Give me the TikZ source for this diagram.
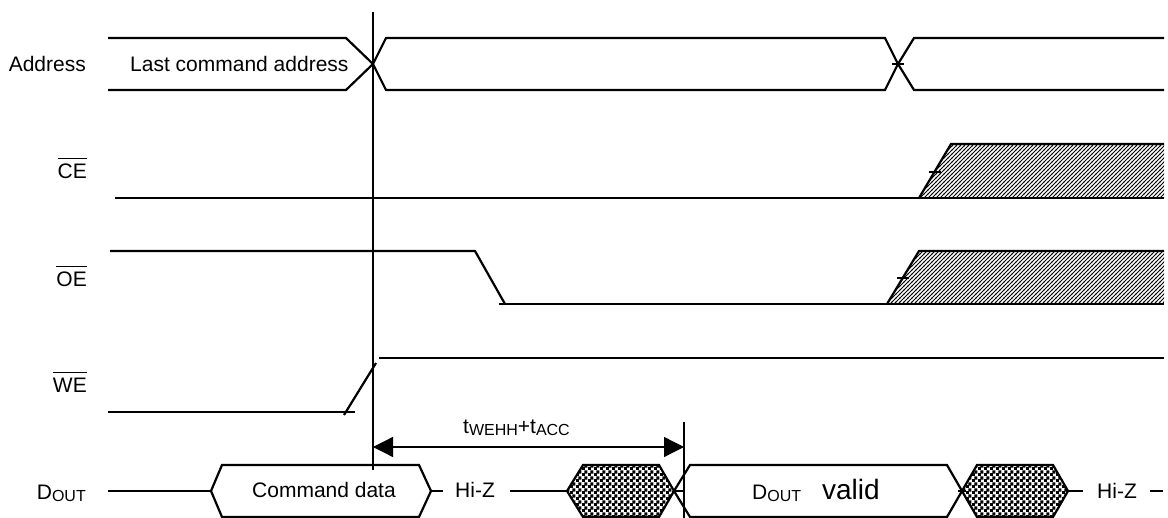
\documentclass[tikz,border=0pt]{standalone}
\usepackage{fontspec}
\setmainfont{Liberation Sans}
\usetikzlibrary{patterns,arrows.meta}

% fill patterns for the "don't care" and "invalid" regions
\pgfdeclarepatternformonly{slant}{\pgfqpoint{-1pt}{-1pt}}{\pgfqpoint{5pt}{5pt}}{\pgfqpoint{4pt}{4pt}}{%
  \pgfsetlinewidth{0.9pt}
  \pgfpathmoveto{\pgfqpoint{-0.2pt}{-0.2pt}}
  \pgfpathlineto{\pgfqpoint{4.2pt}{4.2pt}}
  \pgfusepath{stroke}}
\pgfdeclarepatternformonly{checks}{\pgfpointorigin}{\pgfqpoint{6pt}{6pt}}{\pgfqpoint{6pt}{6pt}}{%
  \pgfpathrectangle{\pgfqpoint{-0.3pt}{-0.3pt}}{\pgfqpoint{3.6pt}{3.6pt}}
  \pgfpathrectangle{\pgfqpoint{2.7pt}{2.7pt}}{\pgfqpoint{3.6pt}{3.6pt}}
  \pgfusepath{fill}}

\newcommand{\ovl}[1]{\vbox{\hrule height 1.2pt\kern 5.5pt\hbox{#1}}}
\newcommand{\dsub}[1]{\raisebox{-1.5pt}{\fontsize{16}{16}\selectfont #1}}

\begin{document}
\begin{tikzpicture}[x=1pt,y=-1pt,
    sig/.style={line width=2.2pt,line join=miter},
    tick/.style={line width=1.3pt},
    lbl/.style={font=\fontsize{21}{25}\selectfont,inner sep=0pt},
    span/.style={<->,line width=1.3pt,>={Triangle[length=20pt,width=20pt]}}]
  \useasboundingbox (0,0) rectangle (1168,518);

  % signal names
  \node[lbl,anchor=base east] (nAddr) at (86,72) {Address};
  \node[lbl,anchor=base east] (nCE) at (87,179) {\ovl{CE}};
  \node[lbl,anchor=base east] (nOE) at (87,287) {\ovl{OE}};
  \node[lbl,anchor=base east] (nWE) at (87,393) {\ovl{WE}};
  \node[lbl,anchor=base east] (nDout) at (86,500) {D\dsub{OUT}};

  % address bus
  \draw[sig] (108,38) -- (346,38) -- (373,64) -- (386,90) -- (885,90) -- (898,64) -- (914,38) -- (1164,38);
  \draw[sig] (108,90) -- (346,90) -- (373,64) -- (386,38) -- (885,38) -- (898,64) -- (914,90) -- (1164,90);
  \draw[tick] (892,64) -- (904,64);
  \node[lbl,anchor=base west] (lastAddr) at (130,72) {Last command address};

  % chip enable
  \fill[pattern=slant] (919,198) -- (951,144) -- (1164,144) -- (1164,198) -- cycle;
  \draw[sig] (115,198) -- (1164,198);
  \draw[sig] (919,198) -- (951,144) -- (1164,144);
  \draw[tick] (929,172) -- (941,172);

  % output enable
  \fill[pattern=slant] (887,304) -- (919,251) -- (1164,251) -- (1164,304) -- cycle;
  \draw[sig] (110,251) -- (475,251) -- (505,304);
  \draw[sig] (499,304) -- (1164,304);
  \draw[sig] (887,304) -- (919,251) -- (1164,251);
  \draw[tick] (897,278) -- (909,278);

  % write enable
  \draw[sig] (108,412) -- (355,412);
  \draw[sig] (344,415) -- (376,363);
  \draw[sig] (379,358) -- (1164,358);

  % data out
  \draw[sig] (108,491) -- (211,491);
  \draw[sig] (211,491) -- (222,465) -- (419,465) -- (431,491) -- (419,517) -- (222,517) -- cycle;
  \node[lbl,anchor=base west] (cmdData) at (252,498) {Command data};
  \draw[sig] (431,491) -- (443,491);
  \node[lbl,anchor=base west] (hiz1) at (455,498) {Hi-Z};
  \draw[sig] (510,491) -- (567,491);
  \filldraw[sig,pattern=checks] (567,491) -- (583,465) -- (659,465) -- (674,491) -- (659,517) -- (583,517) -- cycle;
  \draw[sig] (674,491) -- (690,465) -- (947,465) -- (962,491) -- (947,517) -- (690,517) -- cycle;
  \draw[tick] (674,491) -- (684,491);
  \node[lbl,anchor=base west] (doutValid) at (752,500) {D\dsub{OUT}\hspace{21pt}{\fontsize{28}{30}\selectfont valid}};
  \filldraw[sig,pattern=checks] (962,491) -- (977,465) -- (1053,465) -- (1068,491) -- (1053,517) -- (977,517) -- cycle;
  \draw[tick] (958,491) -- (966,491);
  \draw[sig] (1068,491) -- (1083,491);
  \node[lbl,anchor=base west] (hiz2) at (1097,499) {Hi-Z};
  \draw[sig] (1150,491) -- (1163,491);

  % timing markers
  \coordinate (cmdEdge) at (373,447);
  \coordinate (accEdge) at (684,447);
  \draw[tick] (373,12) -- (373,470);
  \draw[tick] (684,422) -- (684,518);
  \draw[span] (cmdEdge) -- (accEdge);
  \node[lbl,anchor=base west] (tAcc) at (463,434) {t\dsub{WEHH}+t\dsub{ACC}};
\end{tikzpicture}
\end{document}
